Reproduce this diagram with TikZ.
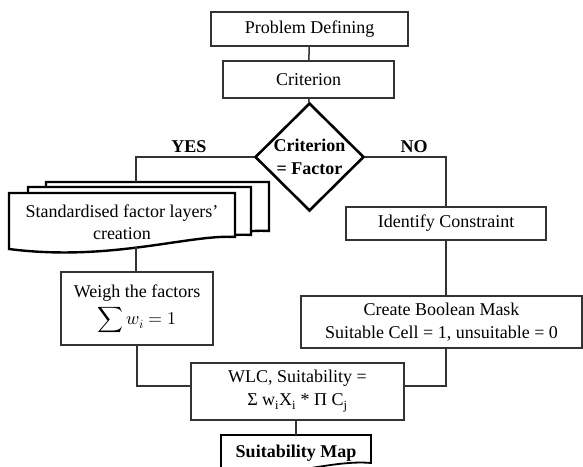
\documentclass[tikz,border=0pt]{standalone}
\usepackage{fontspec}
\usepackage{unicode-math}
\setmainfont{Liberation Serif}
\setmathfont{Latin Modern Math}
\usetikzlibrary{shapes.geometric}

\tikzset{
  every node/.style={font=\fontsize{18}{22.5}\selectfont},
  box/.style={draw=black!80, line width=1.5pt, align=center, inner sep=0pt},
  boldtext/.style={font=\fontsize{18}{22.5}\selectfont\bfseries},
  conn/.style={draw=black!80, line width=1.5pt},
  docshape/.style={draw=black, line width=2.4pt, fill=white, line join=miter}
}

\begin{document}
\begin{tikzpicture}[x=1pt,y=-1pt]
        \useasboundingbox (0,0) rectangle (583,466);
        \clip (0,0) rectangle (583,466);
        % top of the chart
        \node [box, minimum width=197pt, minimum height=34pt] (problem) at (309.5,29) {Problem Defining};
        \node [box, minimum width=171pt, minimum height=37pt] (criterion) at (308.5,79.5) {Criterion};
        \node [diamond, draw=black, line width=2.6pt, inner sep=0pt, align=center, boldtext,
               minimum width=109pt, minimum height=108pt] (factor) at (309.5,157) {Criterion\\= Factor};
        \node [boldtext] (yes) at (189,147) {YES};
        \node [boldtext] (no) at (414,147) {NO};
        % stacked factor layers
        \draw [docshape] (46,182) -- (269,182) -- (269,231) .. controls (224,228) and (144,256) .. (46,243) -- cycle;
        \draw [docshape] (28,187) -- (251,187) -- (251,235) .. controls (206,232) and (126,256) .. (28,248) -- cycle;
        \draw [docshape] (9,193) -- (235,193) -- (235,237) .. controls (190,234) and (110,262) .. (9,249) -- cycle;
        \node [align=center] (layers) at (122,222) {Standardised factor layers'\\creation};
        \coordinate (stacktop) at (136,182);
        \coordinate (layersbot) at (136,247);
        % the two branches
        \node [box, minimum width=200pt, minimum height=33pt] (constraint) at (446,223.5) {Identify Constraint};
        \node [box, minimum width=152pt, minimum height=73pt] (weigh) at (137,308.5) {Weigh the factors\\[4pt]$\displaystyle\sum w_i = 1$};
        \node [box, minimum width=281pt, minimum height=52pt] (mask) at (441.5,322) {Create Boolean Mask\\Suitable Cell = 1, unsuitable = 0};
        \node [box, minimum width=213pt, minimum height=57pt] (wlc) at (297.5,391.5) {WLC, Suitability =\\Σ w\textsubscript{i}X\textsubscript{i} * Π C\textsubscript{j}};
        % result
        \draw [draw=black, line width=1.8pt, fill=white] (221,435) -- (371,435) -- (371,463) .. controls (330,459) and (270,482) .. (221,474) -- cycle;
        \node [boldtext] (map) at (296,453) {Suitability Map};
        \coordinate (maptop) at (296,435);
        % connectors
        \draw [conn] (problem) -- (criterion);
        \draw [conn] (criterion) -- (factor);
        \draw [conn] (factor.west) -| (stacktop);
        \draw [conn] (factor.east) -| (constraint.north -| 446,0);
        \draw [conn] (layersbot) -- (layersbot |- weigh.north);
        \draw [conn] (constraint.south) -- (constraint.south |- mask.north);
        \draw [conn] (weigh.south) |- ([yshift=5.5pt]wlc.west);
        \draw [conn] (constraint.south |- mask.south) |- ([yshift=5.5pt]wlc.east);
        \draw [conn] (wlc.south -| maptop) -- (maptop);
\end{tikzpicture}
\end{document}
